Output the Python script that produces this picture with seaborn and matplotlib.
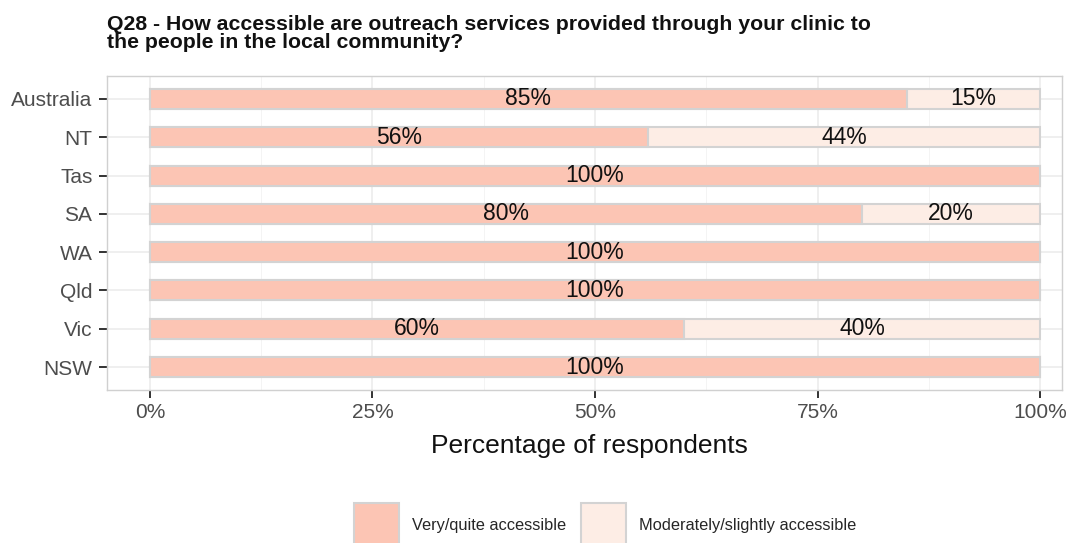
import matplotlib
matplotlib.use("Agg")
import matplotlib.pyplot as plt
import seaborn as sns
import pandas as pd
from matplotlib.patches import Patch
from matplotlib.ticker import FixedLocator

# Survey responses by jurisdiction (percent of respondents)
regions = ["Australia", "NT", "Tas", "SA", "WA", "Qld", "Vic", "NSW"]
very_quite = [85, 56, 100, 80, 100, 100, 60, 100]
moderately = [15, 44, 0, 20, 0, 0, 40, 0]
series_names = ["Very/quite accessible", "Moderately/slightly accessible"]
x_ticks = [0, 25, 50, 75, 100]
x_tick_labels = ["0%", "25%", "50%", "75%", "100%"]

title = ("Q28 - How accessible are outreach services provided through your clinic to\n"
         "the people in the local community?")

col_very = "#FCC5B4"
col_mod = "#FDEDE5"
edge = "#D3D3D3"

sns.set_theme(style="white")
plt.rcParams["font.family"] = ["Liberation Sans", "DejaVu Sans"]

df = pd.DataFrame({
    "region": regions,
    "very": very_quite,
    "mod": moderately,
})
df["total"] = df["very"] + df["mod"]

fig = plt.figure(figsize=(10.72, 5.43), dpi=100)
ax = fig.add_axes([107 / 1072, 1 - 390 / 543, (1062 - 107) / 1072, (390 - 76) / 543])

# stacked bars: full-length bar underneath, first segment drawn on top
sns.barplot(data=df, x="total", y="region", order=regions, color=col_mod,
            saturation=1, width=0.52, edgecolor=edge, linewidth=1.5, ax=ax, zorder=3)
sns.barplot(data=df, x="very", y="region", order=regions, color=col_very,
            saturation=1, width=0.52, edgecolor=edge, linewidth=1.5, ax=ax, zorder=4)

# segment labels
for i, (v, m) in enumerate(zip(very_quite, moderately)):
    ax.text(v / 2, i, f"{v}%", ha="center", va="center", fontsize=16.5,
            color="#111111", zorder=6)
    if m > 0:
        ax.text(v + m / 2, i, f"{m}%", ha="center", va="center", fontsize=16.5,
                color="#111111", zorder=6)

ax.set_xlim(-4.83, 102.47)
ax.set_ylim(len(regions) - 0.4, -0.6)

ax.xaxis.set_major_locator(FixedLocator(x_ticks))
ax.set_xticklabels(x_tick_labels)
ax.xaxis.set_minor_locator(FixedLocator([12.5, 37.5, 62.5, 87.5]))

ax.grid(True, which="major", axis="both", color="#EBEBEB", linewidth=1.1, zorder=0)
ax.grid(True, which="minor", axis="x", color="#F2F2F2", linewidth=0.6, zorder=0)
ax.set_axisbelow(True)

for sp in ax.spines.values():
    sp.set_visible(True)
    sp.set_color("#D0D0D0")
    sp.set_linewidth(1.0)

ax.tick_params(axis="both", which="major", length=5.5, width=1.4, color="#333333",
               labelsize=15, labelcolor="#4D4D4D", bottom=True, left=True)
ax.tick_params(axis="y", pad=5)
ax.tick_params(axis="x", pad=4)
ax.tick_params(axis="x", which="minor", length=0)

ax.set_xlabel("Percentage of respondents", fontsize=19, color="#111111", labelpad=7)
ax.xaxis.set_label_coords(0.505, -0.14)
ax.set_ylabel("")

fig.text(107 / 1072, 1 - 15 / 543, title, ha="left", va="top", fontsize=15.3,
         fontweight="bold", color="#111111", linespacing=0.95)

handles = [Patch(facecolor=col_very, edgecolor=edge, linewidth=1.5),
           Patch(facecolor=col_mod, edgecolor=edge, linewidth=1.5)]
fig.legend(handles, series_names, loc="upper center", bbox_to_anchor=(605 / 1072, 1 - 503 / 543),
           ncol=2, frameon=False, fontsize=11.8, handlelength=2.75, handleheight=3.84,
           handletextpad=0.8, columnspacing=0.9, borderaxespad=0, borderpad=0)

fig.savefig("out.png", dpi=100)
